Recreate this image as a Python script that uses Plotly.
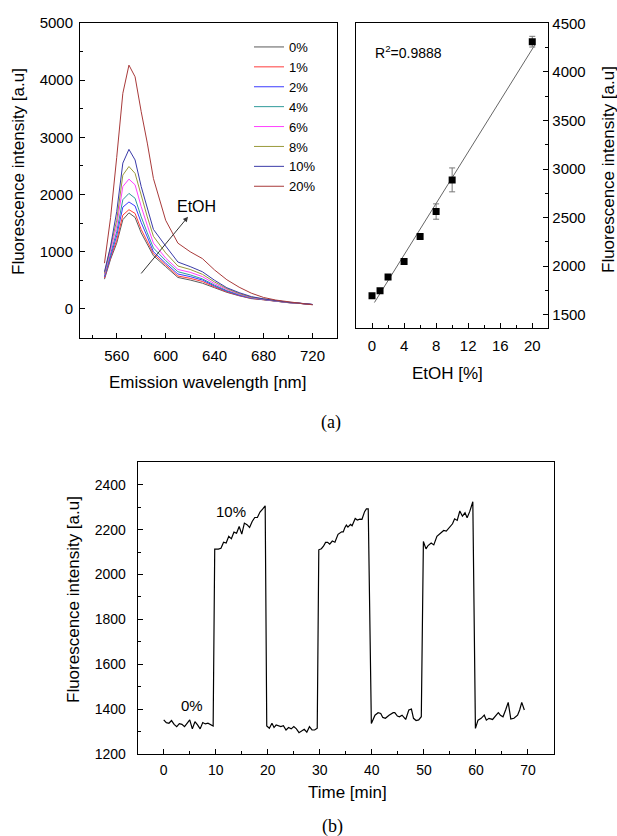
import numpy as np
import plotly.graph_objects as go

W, H = 617, 836

# ---------------- (a) left: emission spectra ----------------
wavelength = [550, 555, 560, 565, 570, 575, 580, 585, 590, 600, 610, 620,
              630, 640, 650, 660, 670, 680, 690, 700, 710, 720]
etoh_labels = ["0%", "1%", "2%", "4%", "6%", "8%", "10%", "20%"]
spec_0 = [520, 870, 1150, 1560, 1680, 1600, 1330, 1120, 930, 740, 550, 505,
          450, 370, 290, 230, 180, 160, 130, 110, 95, 75]
spec_1 = [540, 900, 1200, 1640, 1735, 1670, 1390, 1170, 965, 770, 575, 535,
          480, 385, 300, 235, 185, 160, 130, 110, 95, 75]
spec_2 = [560, 940, 1280, 1780, 1870, 1800, 1510, 1260, 1000, 800, 610, 565,
          505, 400, 310, 240, 190, 165, 135, 112, 96, 76]
spec_4 = [580, 980, 1350, 1910, 2020, 1935, 1610, 1330, 1065, 845, 650, 595,
          525, 415, 320, 250, 195, 165, 135, 112, 96, 76]
spec_6 = [600, 1020, 1450, 2140, 2270, 2170, 1790, 1460, 1150, 890, 690, 640,
          565, 440, 340, 260, 200, 170, 138, 114, 97, 77]
spec_8 = [620, 1060, 1550, 2340, 2490, 2370, 1970, 1610, 1270, 980, 750, 690,
          605, 470, 355, 270, 205, 172, 140, 115, 98, 77]
spec_10 = [650, 1100, 1700, 2550, 2790, 2605, 2140, 1760, 1390, 1100, 820, 740,
           650, 500, 370, 285, 215, 175, 142, 117, 100, 78]
spec_20 = [800, 1600, 2650, 3770, 4263, 4060, 3450, 2900, 2280, 1550, 1150, 1000,
           880, 680, 510, 380, 275, 200, 155, 122, 98, 72]
spectra = [spec_0, spec_1, spec_2, spec_4, spec_6, spec_8, spec_10, spec_20]
line_colors = ["#5a5a5a", "#ff3b3b", "#3b3bff", "#2f9a9a",
               "#ff40ff", "#9a9a3a", "#3a3aa8", "#a83a3a"]

# ---------------- (a) right: calibration ----------------
etoh_conc = [0, 1, 2, 4, 6, 8, 10, 20]
peak_intensity = [1695, 1746, 1887, 2048, 2305, 2562, 2888, 4311]
peak_error = [20, 20, 25, 20, 20, 79, 123, 55]
fit_span = [0.3, 20.3]

# ---------------- (b): response to alternating 0% / 10% ethanol ----------------
time_min = [0, 0.5, 1, 1.5, 2, 2.5, 3, 3.5, 4, 4.5, 5, 5.5, 6, 6.5, 7, 7.5, 8, 8.5, 9, 9.5,
            9.8, 10.5, 11, 11.5, 12, 12.5, 13, 13.5, 14, 14.5, 15, 15.5, 16, 16.5, 17, 17.5,
            18, 18.5, 19, 19.5,
            19.8, 20.3, 20.8, 21.2, 21.6, 22, 22.5, 23, 23.5, 24, 24.5, 25, 25.5, 26, 26.5,
            27, 27.5, 28, 28.5, 29, 29.5,
            29.8, 30.3, 30.7, 31.1, 31.5, 31.9, 32.4, 32.9, 33.5, 34.2, 34.5, 34.8, 35.1,
            35.4, 35.9, 36.2, 36.8, 37.2, 37.7, 38.1, 38.6, 38.95, 39.3,
            39.9, 40.6, 41.2, 41.7, 42.1, 42.6, 43.3, 44.1, 44.4, 44.9, 45.3, 45.8, 46.5,
            47.1, 47.6, 48.0, 48.5, 49.0, 49.5,
            49.9, 50.4, 50.8, 51.4, 51.9, 52.5, 53.2, 53.8, 54.3, 54.9, 55.5, 55.9, 56.4,
            56.9, 57.4, 57.9, 58.3, 58.8, 59.4,
            59.9, 60.4, 61.0, 61.6, 62.0, 62.5, 63.2, 63.7, 64.3, 64.7, 65.2, 65.7, 66.2,
            66.7, 67.3, 68.0, 68.4, 68.8, 69.3]
signal = [1352, 1340, 1337, 1349, 1332, 1322, 1335, 1332, 1322, 1335, 1352, 1312, 1344,
          1330, 1312, 1340, 1334, 1337, 1332, 1325,
          2113, 2113, 2117, 2144, 2140, 2170, 2159, 2189, 2184, 2214, 2180, 2229, 2222,
          2210, 2236, 2254, 2254, 2278, 2291, 2306,
          1325, 1315, 1337, 1318, 1329, 1326, 1322, 1326, 1307, 1318, 1312, 1322, 1312,
          1295, 1303, 1310, 1297, 1322, 1307, 1307, 1315,
          2110, 2115, 2126, 2143, 2143, 2135, 2149, 2144, 2179, 2190, 2190, 2208, 2220,
          2211, 2223, 2217, 2250, 2243, 2247, 2246, 2280, 2292, 2292,
          1336, 1373, 1384, 1381, 1363, 1359, 1373, 1384, 1384, 1369, 1366, 1373, 1354,
          1396, 1400, 1359, 1349, 1352, 1366,
          2147, 2114, 2129, 2140, 2132, 2170, 2185, 2196, 2193, 2211, 2226, 2248, 2241,
          2283, 2260, 2275, 2253, 2280, 2324,
          1314, 1351, 1359, 1373, 1351, 1359, 1354, 1366, 1384, 1373, 1366, 1396, 1430,
          1356, 1359, 1373, 1396, 1430, 1396]

FONT = "Liberation Sans, Arial, sans-serif"
SERIF = "Liberation Serif, Times New Roman, serif"


def px_x(x):
    return x / W


def px_y(y):
    return 1 - y / H


fig = go.Figure()

for name, vals, col in zip(etoh_labels, spectra, line_colors):
    fig.add_trace(go.Scatter(x=wavelength, y=vals, mode="lines", name=name,
                             line=dict(color=col, width=1),
                             xaxis="x", yaxis="y"))

# linear fit of the calibration points
slope, intercept = np.polyfit(etoh_conc, peak_intensity, 1)
fit_x = np.array(fit_span)
fig.add_trace(go.Scatter(x=fit_x, y=slope * fit_x + intercept, mode="lines",
                         line=dict(color="#666666", width=1), showlegend=False,
                         xaxis="x2", yaxis="y2"))
fig.add_trace(go.Scatter(x=etoh_conc, y=peak_intensity, mode="markers",
                         marker=dict(symbol="square", size=7, color="black"),
                         error_y=dict(type="data", array=peak_error, color="#777777",
                                      thickness=1, width=3),
                         showlegend=False, xaxis="x2", yaxis="y2"))

fig.add_trace(go.Scatter(x=time_min, y=signal, mode="lines",
                         line=dict(color="black", width=1.2), showlegend=False,
                         xaxis="x3", yaxis="y3"))


def axis(domain, rng, dtick, minor, size=15, **kw):
    d = dict(domain=domain, range=rng, dtick=dtick, tick0=0, automargin=False,
             showline=True, linecolor="black", linewidth=1, mirror=True,
             ticks="inside", ticklen=5, tickwidth=1, tickcolor="black",
             minor=dict(dtick=minor, ticks="inside", ticklen=3, tickcolor="black",
                        showgrid=False),
             showgrid=False, zeroline=False,
             tickfont=dict(family=FONT, size=size, color="black"))
    d.update(kw)
    return d


fig.update_layout(
    width=W, height=H,
    margin=dict(l=0, r=0, t=0, b=0, pad=0, autoexpand=False),
    paper_bgcolor="white", plot_bgcolor="white",
    font=dict(family=FONT, color="black"),
    xaxis=axis([px_x(80), px_x(337)], [530, 740], 40, 20, anchor="y",
               ticklabelstandoff=4),
    yaxis=axis([px_y(337.5), px_y(23)], [-500, 5000], 1000, 500, anchor="x",
               ticklabelstandoff=3),
    xaxis2=axis([px_x(356), px_x(548.3)], [-2, 22], 4, 2, anchor="y2",
                ticklabelstandoff=4),
    yaxis2=axis([px_y(328.3), px_y(23.3)], [1360, 4500], 500, 250, anchor="x2",
                side="right", ticklabelstandoff=0),
    xaxis3=axis([px_x(137.7), px_x(554)], [-5, 75], 10, 5, size=14, anchor="y3",
                ticklabelstandoff=3),
    yaxis3=axis([px_y(754), px_y(462.3)], [1200, 2500], 200, 100, size=14, anchor="x3",
                ticklabelstandoff=8),
    legend=dict(x=px_x(249), y=px_y(32), xanchor="left", yanchor="top",
                bgcolor="rgba(0,0,0,0)", borderwidth=0, tracegroupgap=0,
                font=dict(family=FONT, size=13, color="black")),
)

title_font = dict(family=FONT, size=17, color="black")
ann = [
    dict(text="Fluorescence intensity [a.u]", x=px_x(19), y=px_y(172), textangle=-90),
    dict(text="Emission wavelength [nm]", x=px_x(207), y=px_y(383)),
    dict(text="EtOH [%]", x=px_x(447), y=px_y(373)),
    dict(text="Fluorescence intensity [a.u]", x=px_x(608), y=px_y(170), textangle=-90),
    dict(text="Time [min]", x=px_x(347), y=px_y(792)),
    dict(text="Fluorescence intensity [a.u]", x=px_x(73), y=px_y(600), textangle=-90),
]
for a in ann:
    fig.add_annotation(xref="paper", yref="paper", showarrow=False,
                       xanchor="center", yanchor="middle", font=title_font, **a)

for txt, xx, yy in (("(a)", 331, 423), ("(b)", 332, 826)):
    fig.add_annotation(xref="paper", yref="paper", x=px_x(xx), y=px_y(yy), text=txt,
                       showarrow=False, xanchor="center", yanchor="middle",
                       font=dict(family=SERIF, size=18, color="black"))

# "EtOH" label with an arrow pointing up through the spectra (head next to the label)
fig.add_annotation(xref="x", yref="y", axref="x", ayref="y",
                   x=580, y=620, ax=625, ay=1785, text="EtOH",
                   showarrow=True, arrowside="start", arrowhead=2, startarrowhead=2,
                   arrowsize=1, startarrowsize=1, arrowwidth=1, arrowcolor="#333333",
                   font=dict(family=FONT, size=16, color="black"))

fig.add_annotation(xref="x2", yref="y2", x=0.1, y=4208, xanchor="left",
                   text="R<sup>2</sup>=0.9888", showarrow=False,
                   font=dict(family=FONT, size=14, color="black"))

fig.add_annotation(xref="x3", yref="y3", x=13, y=2279, text="10%", showarrow=False,
                   font=dict(family=FONT, size=15, color="black"))
fig.add_annotation(xref="x3", yref="y3", x=5.4, y=1416, text="0%", showarrow=False,
                   font=dict(family=FONT, size=15, color="black"))

fig.write_html("out.html")
